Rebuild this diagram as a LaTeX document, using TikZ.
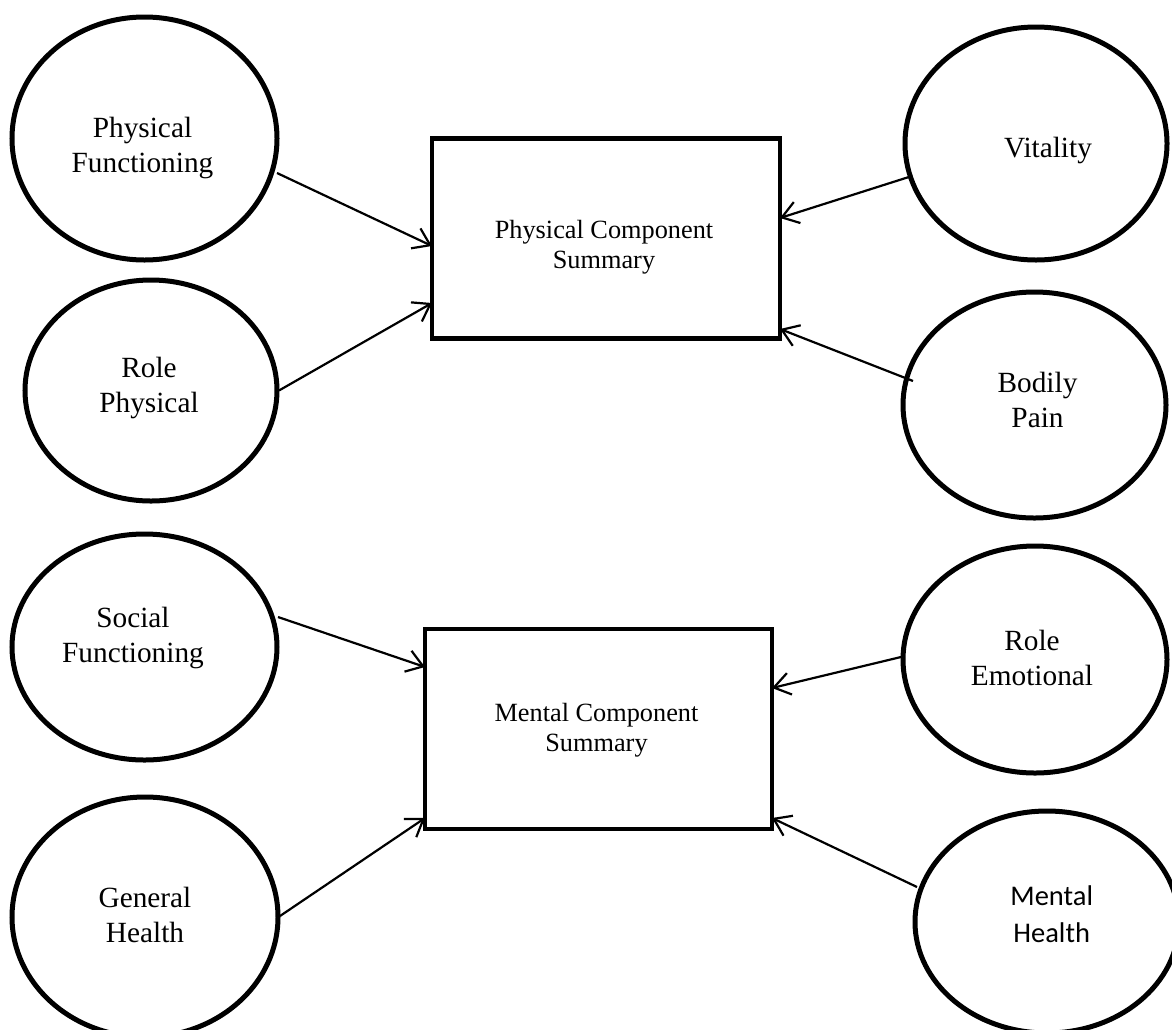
\documentclass[tikz,border=0pt]{standalone}
\usepackage{fontspec}
\setmainfont{Liberation Serif}
\newfontfamily\calibrilike{Carlito}
\usetikzlibrary{arrows.meta, shapes.geometric}

\begin{document}
\begin{tikzpicture}[x=1pt, y=-1pt,
  oval/.style={draw, ellipse, line width=5pt, inner sep=0pt, outer sep=0pt},
  summarybox/.style={draw, rectangle, line width=4.5pt, inner sep=0pt, outer sep=0pt,
    minimum width=348pt, minimum height=200pt},
  lbl/.style={align=center, anchor=base, inner sep=0pt,
    font=\fontsize{29.3}{35}\selectfont},
  boxlbl/.style={align=center, anchor=base, inner sep=0pt,
    font=\fontsize{26.3}{30}\selectfont},
  link/.style={line width=2.2pt, -{Straight Barb[length=16pt, width=22pt]}}
]
\useasboundingbox (0,0) rectangle (1172,1029);

% summary boxes
\node[summarybox] (pcs) at (606,238.5) {};
\node[summarybox, minimum width=347pt] (mcs) at (598.5,729) {};
% (multi-line labels are placed by the baseline of their last line)
\node[boxlbl] (pcst) at (604,268) {Physical Component\\Summary};
\node[boxlbl] (mcst) at (596.5,751) {Mental Component\\Summary};

% scale ellipses, physical side
\node[oval, minimum width=265pt, minimum height=243pt] (pf) at (144.5,138.5) {};
\node[oval, minimum width=252pt, minimum height=221pt] (rp) at (151,390.5) {};
\node[oval, minimum width=262pt, minimum height=233pt] (vit) at (1036,143.5) {};
\node[oval, minimum width=263pt, minimum height=226pt] (bp) at (1034.5,405) {};

% scale ellipses, mental side
\node[oval, minimum width=265pt, minimum height=226pt] (sf) at (144.5,647) {};
\node[oval, minimum width=266pt, minimum height=240pt] (gh) at (145,917) {};
\node[oval, minimum width=264pt, minimum height=227pt] (re) at (1035,659.5) {};
\node[oval, minimum width=264pt, minimum height=222pt] (mh) at (1047,922) {};

% labels
\node[lbl] (pft) at (142.5,172) {Physical\\Functioning};
\node[lbl] (rpt) at (149,412) {Role\\Physical};
\node[lbl] (vitt) at (1048,157) {Vitality};
\node[lbl] (bpt) at (1037.5,427) {Bodily\\Pain};
\node[lbl] (sft) at (133,662) {Social\\Functioning};
\node[lbl] (ght) at (145,942) {General\\Health};
\node[lbl] (ret) at (1032,685) {Role\\Emotional};
\node[lbl, font=\calibrilike\fontsize{28.5}{37}\selectfont] (mht) at (1051.7,942) {Mental\\Health};

% connectors into the summaries
\draw[link] ([shift={(132.5,34.5)}]pf.center) -- ([shift={(0,7.5)}]pcs.west);
\draw[link] ([shift={(128,0)}]rp.center) -- ([shift={(0,64.5)}]pcs.west);
\draw[link] ([shift={(-124,32.5)}]vit.center) -- ([shift={(0,-20.5)}]pcs.east);
\draw[link] ([shift={(-121.5,-24)}]bp.center) -- ([shift={(0,90.5)}]pcs.east);

\draw[link] ([shift={(133.5,-30)}]sf.center) -- ([shift={(0,-62)}]mcs.west);
\draw[link] ([shift={(135,-1)}]gh.center) -- ([shift={(0,89)}]mcs.west);
\draw[link] ([shift={(-134,-2.5)}]re.center) -- ([shift={(0,-41)}]mcs.east);
\draw[link] ([shift={(-130,-35)}]mh.center) -- ([shift={(0,89)}]mcs.east);
\end{tikzpicture}
\end{document}
